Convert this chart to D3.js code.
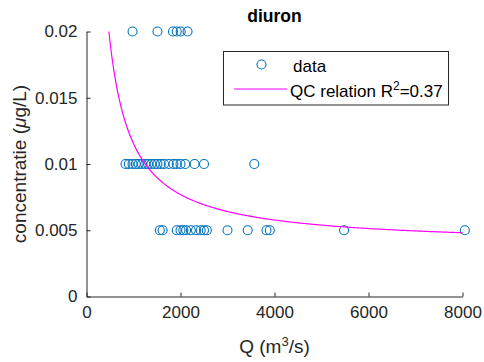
<!DOCTYPE html>
<html>
<head>
<meta charset="utf-8">
<script src="https://cdn.jsdelivr.net/npm/d3@7"></script>
<style>
  html, body { margin: 0; padding: 0; background: #fff; }
  svg { display: block; font-family: "Liberation Sans", Arial, Helvetica, sans-serif; }
</style>
</head>
<body>
<svg id="chart" width="484" height="362"></svg>
<script>
// Measured discharge Q (m3/s) and diuron concentration (ug/L), one entry per sample
const dischargeQ = [
  980, 1510, 1840, 1920, 2005, 2150,
  830, 900, 980, 1050, 1110, 1180, 1250, 1310, 1380, 1450, 1510, 1580, 1650, 1750,
  1850, 1920, 2000, 2100, 2300, 2500, 3570,
  1560, 1620, 1920, 2000, 2060, 2120, 2220, 2330, 2430, 2500, 2560, 3000, 3430, 3830, 3900, 5480, 8050
];
const concentration = [
  0.02, 0.02, 0.02, 0.02, 0.02, 0.02,
  0.01, 0.01, 0.01, 0.01, 0.01, 0.01, 0.01, 0.01, 0.01, 0.01, 0.01, 0.01, 0.01, 0.01,
  0.01, 0.01, 0.01, 0.01, 0.01, 0.01, 0.01,
  0.005, 0.005, 0.005, 0.005, 0.005, 0.005, 0.005, 0.005, 0.005, 0.005, 0.005, 0.005, 0.005, 0.005, 0.005, 0.005, 0.005
];

// QC relation c = a + b / Q, fitted coefficients
const fitA = 0.00385;
const fitB = 7.69;
const fitR2 = "0.37";

const xTicks = [0, 2000, 4000, 6000, 8000];
const yTicks = [0, 0.005, 0.01, 0.015, 0.02];
const yTickLabels = ["0", "0.005", "0.01", "0.015", "0.02"];

const svg = d3.select("#chart");
const axisColor = "#262626";
const dataColor = "#0072BD";
const fitColor = "#FF00FF";

const x = d3.scaleLinear().domain([0, 8000]).range([86.5, 462.5]);
const y = d3.scaleLinear().domain([0, 0.02]).range([296.5, 31.5]);

const tickFont = "17px";

// clip region for the plot area
svg.append("defs").append("clipPath").attr("id", "plotClip")
  .append("rect")
  .attr("x", x(0)).attr("y", y(0.02))
  .attr("width", x(8000) - x(0)).attr("height", y(0) - y(0.02));

// x axis (ticks pointing inward)
const xAxis = d3.axisBottom(x).tickValues(xTicks).tickSize(-4).tickSizeOuter(0)
  .tickFormat(d3.format("d"));
const gx = svg.append("g").attr("transform", `translate(0,${y(0)})`).call(xAxis);
gx.select(".domain").attr("stroke", axisColor);
gx.selectAll(".tick line").attr("stroke", axisColor);
gx.selectAll(".tick text").attr("fill", axisColor).attr("font-size", tickFont)
  .attr("font-family", "Liberation Sans, Arial, sans-serif").attr("dy", "0.71em").attr("y", 9);

// y axis
const yAxis = d3.axisLeft(y).tickValues(yTicks).tickSize(-4).tickSizeOuter(0)
  .tickFormat((d, i) => yTickLabels[i]);
const gy = svg.append("g").attr("transform", `translate(${x(0)},0)`).call(yAxis);
gy.select(".domain").attr("stroke", axisColor);
gy.selectAll(".tick line").attr("stroke", axisColor);
gy.selectAll(".tick text").attr("fill", axisColor).attr("font-size", tickFont)
  .attr("font-family", "Liberation Sans, Arial, sans-serif").attr("x", -9);

// data markers
const plot = svg.append("g").attr("clip-path", null);
plot.selectAll("circle.pt")
  .data(dischargeQ.map((q, i) => [q, concentration[i]]))
  .enter().append("circle")
  .attr("class", "pt")
  .attr("cx", d => x(d[0]))
  .attr("cy", d => y(d[1]))
  .attr("r", 4.5)
  .attr("fill", "none")
  .attr("stroke", dataColor)
  .attr("stroke-width", 1.1);

// fitted QC relation over the range of sampled Q
const qMin = 400, qMax = d3.max(dischargeQ);
const fitPts = d3.range(qMin, qMax + 1, 20).concat([qMax])
  .map(q => [q, fitA + fitB / q]);
svg.append("path")
  .attr("clip-path", "url(#plotClip)")
  .attr("d", d3.line().x(d => x(d[0])).y(d => y(d[1]))(fitPts))
  .attr("fill", "none")
  .attr("stroke", fitColor)
  .attr("stroke-width", 1.2);

// title
svg.append("text")
  .attr("x", (x(0) + x(8000)) / 2).attr("y", 22)
  .attr("text-anchor", "middle")
  .attr("font-size", "17.5px").attr("font-weight", "bold").attr("fill", "#000")
  .text("diuron");

// x axis label
const xl = svg.append("text")
  .attr("x", (x(0) + x(8000)) / 2).attr("y", 353)
  .attr("text-anchor", "middle").attr("font-size", "19px").attr("fill", axisColor);
xl.append("tspan").text("Q (m");
xl.append("tspan").attr("dy", -7).attr("font-size", "13px").text("3");
xl.append("tspan").attr("dy", 7).text("/s)");

// y axis label
const yl = svg.append("text")
  .attr("transform", `translate(26,${(y(0) + y(0.02)) / 2}) rotate(-90)`)
  .attr("text-anchor", "middle").attr("font-size", "19px").attr("fill", axisColor);
yl.append("tspan").text("concentratie (");
yl.append("tspan").attr("font-style", "italic").text("\u03bc");
yl.append("tspan").text("g/L)");

// legend
const lg = svg.append("g");
lg.append("rect")
  .attr("x", 223.5).attr("y", 51.5).attr("width", 225).attr("height", 53.5)
  .attr("fill", "#fff").attr("stroke", axisColor).attr("stroke-width", 1);
lg.append("circle")
  .attr("cx", 261.5).attr("cy", 64.5).attr("r", 4.5)
  .attr("fill", "none").attr("stroke", dataColor).attr("stroke-width", 1.1);
lg.append("text").attr("x", 293).attr("y", 71.5)
  .attr("font-size", "17px").attr("fill", "#000").text("data");
lg.append("line")
  .attr("x1", 234).attr("x2", 287).attr("y1", 89).attr("y2", 89)
  .attr("stroke", fitColor).attr("stroke-width", 1.2);
const lt = lg.append("text").attr("x", 290).attr("y", 96.5)
  .attr("font-size", "17px").attr("fill", "#000");
lt.append("tspan").text("QC relation R");
lt.append("tspan").attr("dy", -7).attr("font-size", "12px").text("2");
lt.append("tspan").attr("dy", 7).text("=" + fitR2);
</script>
</body>
</html>
